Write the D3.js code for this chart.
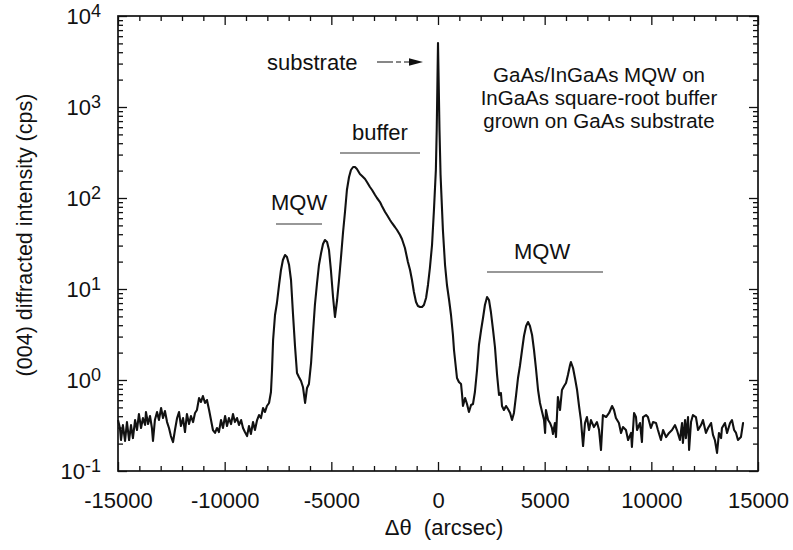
<!DOCTYPE html>
<html><head><meta charset="utf-8">
<script src="https://cdn.jsdelivr.net/npm/d3@7"></script>
<style>
body{margin:0;background:#fff}
text{font-family:"Liberation Sans",Arial,Helvetica,sans-serif;fill:#111}
</style>
</head><body>
<svg id="c" width="793" height="550"></svg>
<script>
// Δθ (arcsec)
const xVals=[
-15000,-14910,-14860,-14770,-14670,-14580,-14480,-14390,-14300,-14200,
-14110,-14020,-13920,-13830,-13730,-13690,-13590,-13500,-13410,-13360,
-13270,-13170,-13080,-12980,-12890,-12800,-12700,-12610,-12520,-12420,
-12330,-12230,-12140,-12050,-11950,-11860,-11770,-11670,-11580,-11480,
-11390,-11300,-11200,-11110,-11020,-10920,-10830,-10730,-10640,-10550,
-10450,-10360,-10270,-10170,-10080,-9980,-9890,-9800,-9700,-9610,
-9520,-9420,-9330,-9230,-9140,-9050,-8950,-8860,-8770,-8670,
-8580,-8480,-8390,-8300,-8200,-8110,-8020,-7920,-7830,-7780,
-7730,-7640,-7550,-7450,-7360,-7270,-7170,-7080,-6980,-6890,
-6800,-6700,-6610,-6520,-6420,-6330,-6230,-6140,-6050,-5950,
-5860,-5770,-5670,-5580,-5480,-5390,-5300,-5200,-5110,-5020,
-4920,-4830,-4730,-4640,-4550,-4450,-4360,-4270,-4170,-4080,
-3980,-3890,-3800,-3660,-3560,-3420,-3330,-3190,-3090,-2950,
-2860,-2720,-2630,-2480,-2390,-2250,-2160,-2020,-1920,-1780,
-1690,-1550,-1410,-1310,-1220,-1130,-1030,-940,-840,-750,
-660,-560,-470,-380,-280,-190,-100,-60,-25,0,
30,70,120,230,330,420,520,610,700,750,
840,890,980,1080,1130,1170,1270,1360,1450,1550,
1640,1730,1830,1920,2020,2110,2200,2300,2390,2480,
2580,2670,2770,2860,2950,3000,3090,3190,3280,3380,
3470,3560,3660,3750,3840,3940,4030,4130,4220,4310,
4410,4500,4590,4690,4780,4880,4970,5020,5060,5160,
5250,5340,5390,5480,5530,5620,5720,5810,5910,6000,
6090,6190,6230,6330,6420,6520,6610,6700,6800,6890,
6980,7080,7170,7310,7450,7550,7640,7730,7880,8020,
8160,8250,8340,8480,8580,8670,8810,8910,9050,9090,
9190,9280,9330,9470,9560,9610,9750,9840,9980,10080,
10220,10310,10450,10550,10690,10830,10970,11110,11200,11340,
11440,11480,11580,11620,11720,11770,11860,11950,12090,12190,
12330,12420,12560,12660,12800,12890,12980,13080,13170,13270,
13310,13450,13550,13690,13780,13880,13970,14060,14200,14300,
14340];
// (004) diffracted intensity (cps)
const intensity=[
0.363,0.297,0.219,0.320,0.214,0.345,0.219,0.320,0.230,0.363,
0.282,0.423,0.297,0.382,0.320,0.445,0.328,0.402,0.297,0.214,
0.363,0.445,0.363,0.492,0.382,0.456,0.345,0.297,0.242,0.208,
0.282,0.382,0.445,0.312,0.382,0.268,0.423,0.328,0.402,0.345,
0.434,0.468,0.634,0.573,0.667,0.559,0.603,0.468,0.363,0.282,
0.262,0.297,0.268,0.363,0.297,0.402,0.312,0.382,0.328,0.423,
0.345,0.382,0.320,0.363,0.297,0.268,0.242,0.312,0.255,0.345,
0.282,0.363,0.412,0.382,0.492,0.445,0.518,0.559,0.738,1.288,
2.751,5.180,7.017,11.07,16.18,20.83,23.64,22.47,18.35,12.56,
5.448,2.305,1.194,1.079,0.975,0.838,0.559,0.817,0.904,1.537,
3.285,6.670,11.64,18.35,24.86,31.23,34.55,32.85,26.83,16.18,
8.168,4.923,7.570,12.56,21.92,42.31,70.20,122.4,170.2,203.1,
219.1,219.1,208.3,183.5,174.5,161.8,149.9,132.1,122.4,107.9,
100,90.36,81.68,70.20,65.04,57.32,53.13,48.01,44.50,39.21,
35.44,28.21,19.81,16.18,12.56,9.268,7.196,6.504,6.341,6.341,
6.670,7.963,11.07,17.01,30.45,73.82,203.1,558.9,1981,5050,
1981,558.9,179.0,44.50,18.35,11.07,7.570,5.180,3.123,2.136,
1.355,1.052,0.951,0.904,0.684,0.518,0.634,0.545,0.445,0.531,
0.545,0.738,1.288,2.424,3.544,4.800,6.670,8.168,7.570,5.588,
3.544,2.305,1.135,0.684,0.720,0.518,0.468,0.518,0.480,0.434,
0.363,0.434,0.684,1.052,1.425,2.136,3.045,3.921,4.339,3.921,
3.123,2.136,1.355,0.776,0.559,0.445,0.363,0.262,0.468,0.363,
0.337,0.297,0.255,0.337,0.236,0.650,0.468,0.776,0.859,0.927,
1.135,1.462,1.577,1.355,1.052,0.776,0.518,0.363,0.188,0.337,
0.392,0.282,0.363,0.304,0.345,0.282,0.170,0.412,0.392,0.434,
0.518,0.468,0.382,0.337,0.262,0.304,0.282,0.219,0.262,0.184,
0.434,0.392,0.282,0.337,0.208,0.392,0.412,0.392,0.297,0.345,
0.337,0.282,0.219,0.282,0.236,0.262,0.282,0.320,0.282,0.219,
0.337,0.203,0.363,0.230,0.392,0.170,0.345,0.412,0.392,0.282,
0.320,0.363,0.262,0.297,0.337,0.249,0.219,0.158,0.262,0.230,
0.297,0.337,0.262,0.337,0.363,0.282,0.262,0.219,0.236,0.337,
0.337];

const xMajorTicks=[-15000,-10000,-5000,0,5000,10000,15000];
const xMinorTicks=[-14000,-13000,-12000,-11000,-9000,-8000,-7000,-6000,-4000,-3000,-2000,-1000,
  1000,2000,3000,4000,6000,7000,8000,9000,11000,12000,13000,14000];
const yExponents=[-1,0,1,2,3,4];
const yMinorMultipliers=[2,3,4,5,6,7,8,9];
const xTitle="Δθ  (arcsec)";
const yTitle="(004) diffracted intensity (cps)";
const infoLines=["GaAs/InGaAs MQW on","InGaAs square-root buffer","grown on GaAs substrate"];

const svg=d3.select('#c');
const L=118,R=758,T=16,B=471;
const FONT='"Liberation Sans",Arial,Helvetica,sans-serif';
const INK='#111';
const x=d3.scaleLinear().domain([-15000,15000]).range([L,R]);
const y=d3.scaleLog().domain([0.1,10000]).range([B,T]);

const yMajorVals=yExponents.map(e=>Math.pow(10,e));
const yMinorVals=[];
yExponents.slice(0,-1).forEach(e=>yMinorMultipliers.forEach(m=>yMinorVals.push(m*Math.pow(10,e))));

function style(g){
  g.select('.domain').remove();
  g.attr('font-family',FONT).attr('font-size',22).attr('color',INK);
  g.selectAll('line').attr('stroke-width',1.3);
}
// x axes
svg.append('g').attr('transform',`translate(0,${B})`)
  .call(d3.axisBottom(x).tickValues(xMajorTicks).tickSize(-9).tickPadding(21).tickFormat(d=>String(d)))
  .call(style);
svg.append('g').attr('transform',`translate(0,${B})`)
  .call(d3.axisBottom(x).tickValues(xMinorTicks).tickSize(-5).tickFormat(''))
  .call(style);
svg.append('g').attr('transform',`translate(0,${T})`)
  .call(d3.axisTop(x).tickValues(xMajorTicks).tickSize(-9).tickFormat(''))
  .call(style);
svg.append('g').attr('transform',`translate(0,${T})`)
  .call(d3.axisTop(x).tickValues(xMinorTicks).tickSize(-5).tickFormat(''))
  .call(style);
// y axes
svg.append('g').attr('transform',`translate(${L},0)`)
  .call(d3.axisLeft(y).tickValues(yMajorVals).tickSize(-9).tickFormat(''))
  .call(style);
svg.append('g').attr('transform',`translate(${L},0)`)
  .call(d3.axisLeft(y).tickValues(yMinorVals).tickSize(-5).tickFormat(''))
  .call(style);
svg.append('g').attr('transform',`translate(${R},0)`)
  .call(d3.axisRight(y).tickValues(yMajorVals).tickSize(-9).tickFormat(''))
  .call(style);
svg.append('g').attr('transform',`translate(${R},0)`)
  .call(d3.axisRight(y).tickValues(yMinorVals).tickSize(-5).tickFormat(''))
  .call(style);

// y tick labels 10^n
const yl=svg.append('g').attr('font-family',FONT);
yExponents.forEach(e=>{
  const t=yl.append('text').attr('x',101).attr('y',y(Math.pow(10,e))+8).attr('text-anchor','end');
  t.append('tspan').attr('font-size',22).text('10');
  t.append('tspan').attr('font-size',18).attr('dy',-7).text(String(e));
});

// frame
svg.append('rect').attr('x',L).attr('y',T).attr('width',R-L).attr('height',B-T)
  .attr('fill','none').attr('stroke',INK).attr('stroke-width',1.7);

// data curve
const line=d3.line().x(d=>x(d[0])).y(d=>y(d[1])).curve(d3.curveLinear);
svg.append('path').datum(d3.zip(xVals,intensity)).attr('d',line)
  .attr('fill','none').attr('stroke',INK).attr('stroke-width',2.1).attr('stroke-linejoin','round');

// titles
svg.append('text').attr('x',444).attr('y',535).attr('text-anchor','middle')
  .attr('font-size',22).attr('xml:space','preserve').style('white-space','pre').text(xTitle);
svg.append('text').attr('transform','translate(32,235) rotate(-90)').attr('text-anchor','middle')
  .attr('font-size',21.5).text(yTitle);

// annotations
const ann=svg.append('g').attr('font-size',22);
ann.append('text').attr('x',267).attr('y',70).text('substrate');
svg.append('line').attr('x1',377).attr('x2',411).attr('y1',62).attr('y2',62)
  .attr('stroke',INK).attr('stroke-width',1.1).attr('stroke-dasharray','16,3,5,3');
svg.append('path').attr('d','M423,62 L409,58.2 L409,65.8 Z').attr('fill',INK);

ann.append('text').attr('x',352).attr('y',140).text('buffer');
svg.append('line').attr('x1',340).attr('x2',420).attr('y1',153).attr('y2',153).attr('stroke','#333').attr('stroke-width',1.1);

ann.append('text').attr('x',271).attr('y',210).text('MQW');
svg.append('line').attr('x1',276).attr('x2',322).attr('y1',224).attr('y2',224).attr('stroke','#333').attr('stroke-width',1.1);

ann.append('text').attr('x',514).attr('y',259).text('MQW');
svg.append('line').attr('x1',487).attr('x2',603).attr('y1',272).attr('y2',272).attr('stroke','#333').attr('stroke-width',1.1);

infoLines.forEach((s,i)=>{
  ann.append('text').attr('x',599).attr('y',82+i*23).attr('text-anchor','middle')
    .attr('font-size',20.5).text(s);
});
</script>
</body></html>
